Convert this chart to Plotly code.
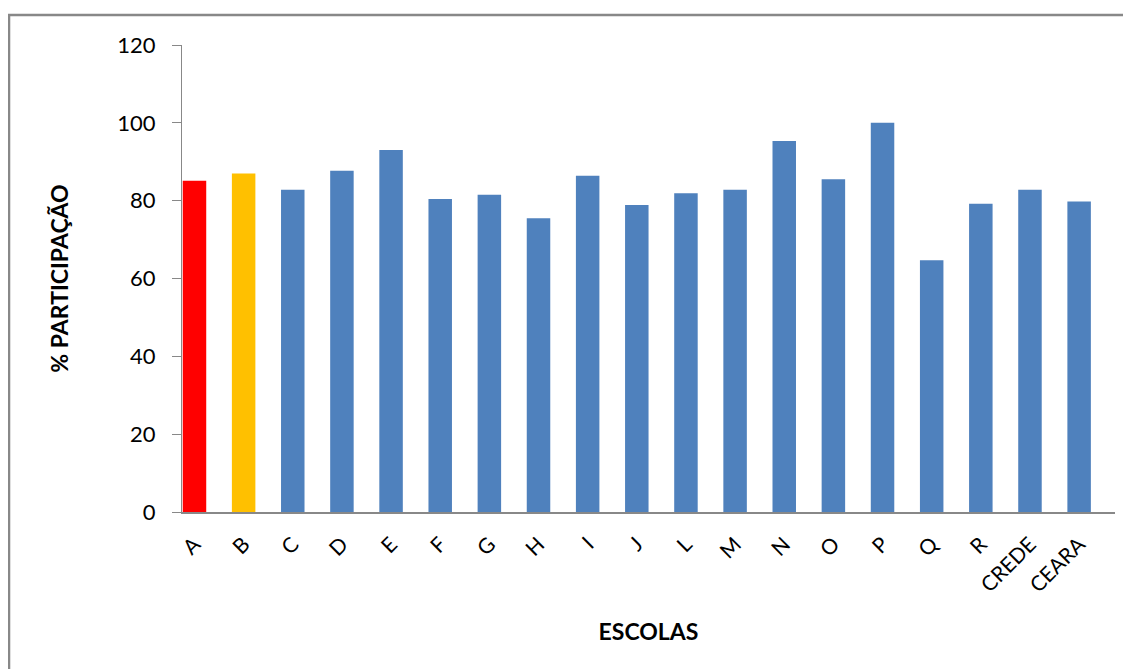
import plotly.graph_objects as go

categorias = ["A", "B", "C", "D", "E", "F", "G", "H", "I", "J", "L", "M", "N", "O", "P", "Q", "R", "CREDE", "CEARA"]
participacao = [85.1, 87.0, 82.8, 87.7, 93.0, 80.4, 81.5, 75.5, 86.4, 78.9, 81.9, 82.8, 95.3, 85.5, 100.0, 64.7, 79.2, 82.8, 79.8]
cores = ["#FF0000", "#FFC000"] + ["#4F81BD"] * 17
y_ticks = [0, 20, 40, 60, 80, 100, 120]

FONT = "Lato"

fig = go.Figure(
    go.Bar(
        x=categorias,
        y=participacao,
        marker=dict(color=cores, line=dict(width=0)),
    )
)

fig.update_layout(
    width=1131,
    height=669,
    margin=dict(l=174, r=24, t=37, b=165, autoexpand=False),
    paper_bgcolor="white",
    plot_bgcolor="white",
    bargap=0.522,
    showlegend=False,
    font=dict(family=FONT, color="#000000"),
)

fig.update_yaxes(
    range=[0, 120],
    tickvals=y_ticks,
    showgrid=False,
    zeroline=False,
    showline=True,
    linecolor="#888888",
    linewidth=1,
    ticks="outside",
    ticklen=9,
    tickcolor="#888888",
    ticklabelstandoff=12,
    tickfont=dict(size=22, family=FONT, color="#000000"),
    title=dict(text="<b>% PARTICIPAÇÃO</b>", font=dict(size=23, family=FONT, color="#000000"), standoff=42),
)

fig.update_xaxes(
    range=[-0.254, 18.73],
    showgrid=False,
    showline=True,
    linecolor="#888888",
    linewidth=1.5,
    ticks="",
    tickangle=-45,
    ticklabelstandoff=10,
    tickfont=dict(size=21, family=FONT, color="#000000"),
    title=dict(text="<b>ESCOLAS</b>", font=dict(size=23, family=FONT, color="#000000"), standoff=28),
)

# outer chart frame (partially outside the viewport, as in the reference)
fig.add_shape(
    type="rect",
    xref="paper", yref="paper",
    x0=-0.1854, x1=1.2, y0=-0.6, y1=1.064,
    line=dict(color="#888888", width=2.5),
    fillcolor="rgba(0,0,0,0)",
    layer="below",
)

fig.write_html("out.html")
